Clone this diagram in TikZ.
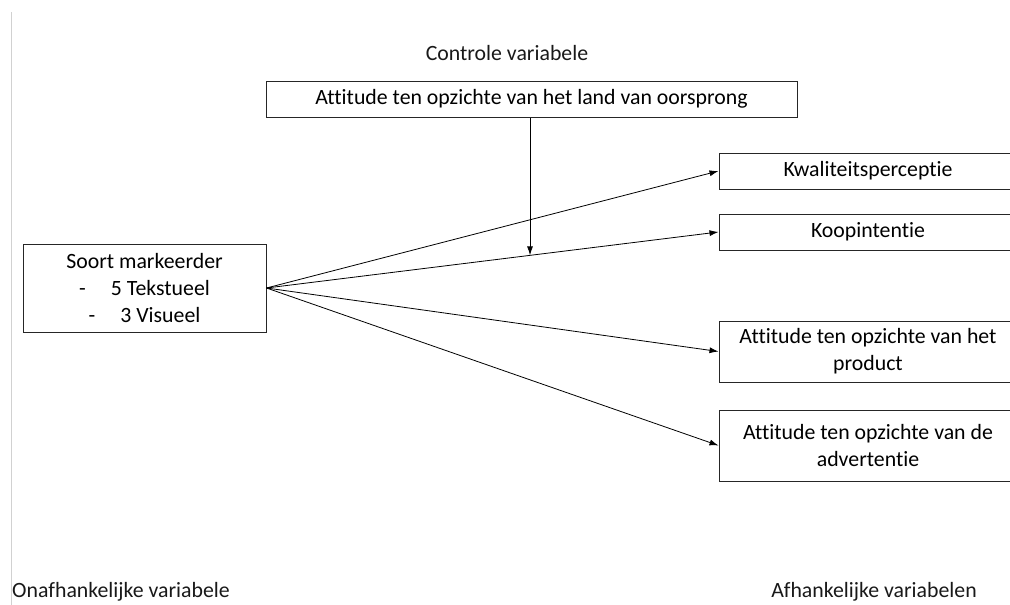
\documentclass[tikz,border=0pt]{standalone}
\usepackage{fontspec}
\setmainfont{Carlito}[RawFeature=-liga]
\usepackage{tikz}
\usetikzlibrary{shapes,arrows.meta,positioning,calc}

\begin{document}
\begin{tikzpicture}[x=1pt,y=-1pt,
                   font=\fontsize{21.8}{26.8}\selectfont,
                   blok/.style={draw=black!85, line width=1pt, align=center, inner sep=2pt},
                   rechts/.style={blok, minimum width=298pt},
                   pijl/.style={-{Latex[length=9pt,width=6pt]}, line width=0.8pt},
                   kop/.style={inner sep=0pt, text=black!90}]
  \useasboundingbox (0,0) rectangle (1010,605);
  \draw[black!18, line width=1pt] (11,12) -- (11,605);

  % controle variabele
  \node[kop] (ctrltitel) at (507,53) {Controle variabele};
  \node[blok, minimum width=531pt, minimum height=36pt] (land) at (531.5,99)
    {Attitude ten opzichte van het land van oorsprong};

  % onafhankelijke variabele
  \node[blok, minimum width=243pt, minimum height=88pt] (marker) at (144.5,288)
    {Soort markeerder\\ -\hspace{1.15em}5 Tekstueel\\ -\hspace{1.15em}3 Visueel};

  % afhankelijke variabelen
  \node[rechts, minimum height=36pt] (kwal) at (868,171) {Kwaliteitsperceptie};
  \node[rechts, minimum height=36pt] (koop) at (868,232) {Koopintentie};
  \node[rechts, minimum height=61pt] (prod) at (868,351.5)
    {Attitude ten opzichte van het\\ product};
  \node[rechts, minimum height=71pt] (adv) at (868,445.5)
    {Attitude ten opzichte van de\\ advertentie};

  \node[kop, anchor=west] (onafh) at (12,592) {Onafhankelijke variabele};
  \node[kop] (afh) at (874,592) {Afhankelijke variabelen};

  \draw[pijl] (marker.east) -- (kwal.west);
  \draw[pijl] (marker.east) -- (koop.west);
  \draw[pijl] (marker.east) -- (prod.west);
  \draw[pijl] (marker.east) -- (adv.west);

  \coordinate (moderatie) at ($(marker.east)!0.583!(koop.west)$);
  \draw[pijl] (land.south -| moderatie) -- (moderatie);
\end{tikzpicture}
\end{document}
